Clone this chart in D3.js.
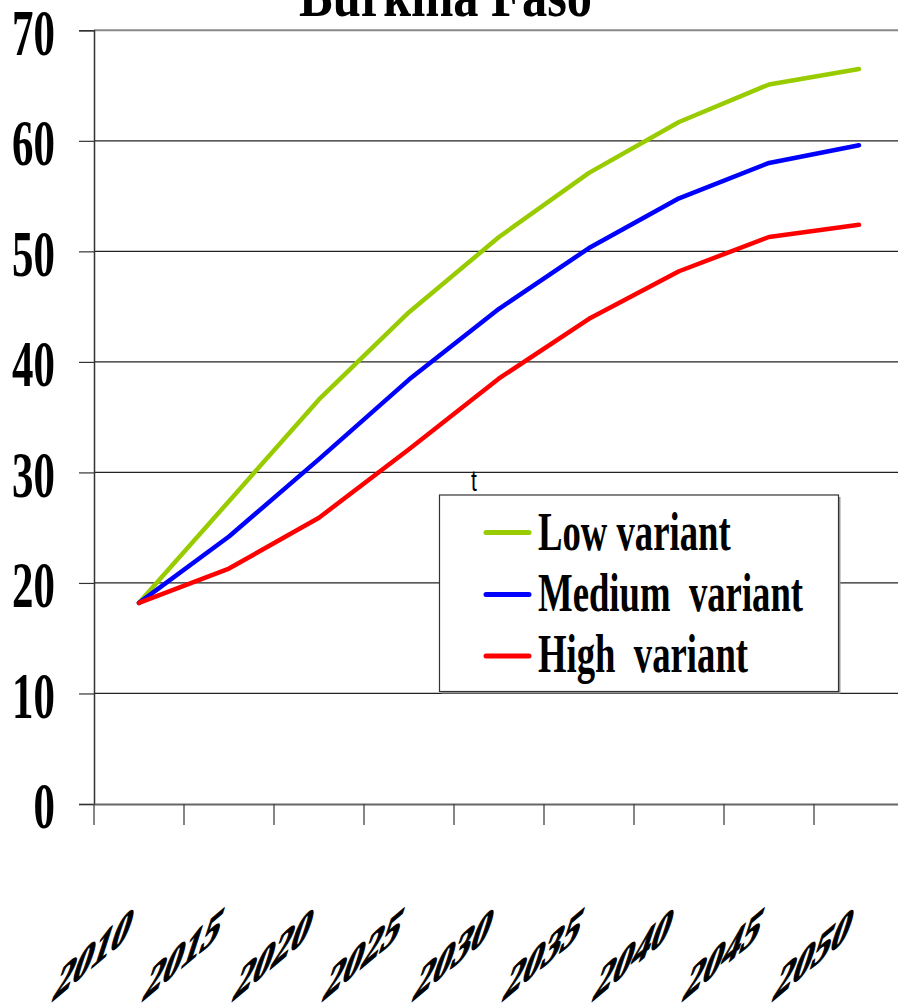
<!DOCTYPE html>
<html>
<head>
<meta charset="utf-8">
<script src="https://cdn.jsdelivr.net/npm/d3@7"></script>
<style>
  html, body { margin: 0; padding: 0; background: #fff; }
  svg { display: block; }
  text { font-family: "Liberation Serif", "Times New Roman", serif; font-weight: bold; fill: #000; }
</style>
</head>
<body>
<svg id="chart" width="898" height="1003"></svg>
<script>
// Burkina Faso projections by variant, 2010-2050
const years = ["2010", "2015", "2020", "2025", "2030", "2035", "2040", "2045", "2050"];
const lowVariant    = [18.2, 27.4, 36.6, 44.5, 51.3, 57.1, 61.7, 65.1, 66.5];
const mediumVariant = [18.2, 24.2, 31.2, 38.4, 44.8, 50.3, 54.8, 58.0, 59.6];
const highVariant   = [18.2, 21.3, 25.9, 32.1, 38.5, 43.9, 48.2, 51.3, 52.4];
const seriesNames = ["Low variant", "Medium\u00A0 variant", "High\u00A0 variant"];
const yTicks = [0, 10, 20, 30, 40, 50, 60, 70];

const series = [
  { name: seriesNames[0], values: lowVariant,    color: "#99cc00" },
  { name: seriesNames[1], values: mediumVariant, color: "#0000ff" },
  { name: seriesNames[2], values: highVariant,   color: "#ff0000" }
];

const svg = d3.select("#chart");
const plot = { left: 94, right: 904, top: 30.3, bottom: 804 };
const squeeze = 0.66; // narrow glyph width used for chart text

const x = d3.scaleBand().domain(years).range([plot.left, plot.right]).padding(0);
const y = d3.scaleLinear().domain([0, 70]).range([plot.bottom, plot.top]);
const cx = d => x(d) + x.bandwidth() / 2;

// Title (partly above the frame)
svg.append("text")
  .attr("x", 299).attr("y", 16)
  .attr("font-size", 62)
  .attr("textLength", 293)
  .attr("lengthAdjust", "spacingAndGlyphs")
  .text("Burkina Faso");

// Horizontal gridlines
svg.append("g")
  .selectAll("line")
  .data(yTicks.filter(t => t > 0 && t < 70))
  .join("line")
  .attr("x1", plot.left).attr("x2", 898)
  .attr("y1", d => y(d)).attr("y2", d => y(d))
  .attr("stroke", "#222").attr("stroke-width", 1.2);

// Top frame line
svg.append("line")
  .attr("x1", plot.left).attr("x2", 898)
  .attr("y1", y(70)).attr("y2", y(70))
  .attr("stroke", "#888").attr("stroke-width", 2);

// Y axis
const yAxis = svg.append("g")
  .attr("transform", `translate(${plot.left},0)`)
  .call(d3.axisLeft(y).tickValues(yTicks).tickSize(15).tickFormat(d3.format("d")));
yAxis.select(".domain").attr("stroke", "#333").attr("stroke-width", 1.5);
yAxis.selectAll(".tick line").attr("stroke", "#333").attr("stroke-width", 1.2);
yAxis.selectAll(".tick text")
  .style("font-family", "'Liberation Serif', 'Times New Roman', serif")
  .style("font-weight", "bold")
  .attr("font-size", 65)
  .attr("fill", "#000")
  .attr("x", null)
  .attr("dy", null)
  .attr("dominant-baseline", "central")
  .attr("text-anchor", "end")
  .attr("transform", `translate(-39,2) scale(${squeeze},1)`);

// X axis: baseline, tick marks at category boundaries
const xAxis = svg.append("g")
  .attr("transform", `translate(0,${plot.bottom})`)
  .call(d3.axisBottom(x).tickSize(0).tickFormat(""));
xAxis.select(".domain").attr("stroke", "#666").attr("stroke-width", 2);

svg.append("g")
  .selectAll("line")
  .data(years)
  .join("line")
  .attr("x1", d => x(d)).attr("x2", d => x(d))
  .attr("y1", plot.bottom).attr("y2", plot.bottom + 21)
  .attr("stroke", "#444").attr("stroke-width", 1.3);

// Slanted year labels (diagonal baseline, glyphs leaning right)
svg.append("g")
  .selectAll("text")
  .data(years)
  .join("text")
  .attr("font-size", 62)
  .attr("text-anchor", "end")
  .attr("stroke", "#000")
  .attr("stroke-width", 2)
  .attr("stroke-linejoin", "round")
  .attr("transform", d => `translate(${cx(d) - 12.6},${plot.bottom + 135}) matrix(0.613,-0.514,-0.272,0.837,0,0)`)
  .text(d => d);

// Series lines
const line = d3.line()
  .x((v, i) => cx(years[i]))
  .y(v => y(v));

svg.append("g")
  .selectAll("path")
  .data(series)
  .join("path")
  .attr("d", s => line(s.values))
  .attr("fill", "none")
  .attr("stroke", s => s.color)
  .attr("stroke-width", 4.5)
  .attr("stroke-linejoin", "round")
  .attr("stroke-linecap", "round");

// Stray label above legend
svg.append("text")
  .style("font-family", "'Liberation Sans', Arial, sans-serif")
  .style("font-weight", "normal")
  .attr("font-size", 30)
  .attr("transform", `translate(471,491) scale(0.7,1)`)
  .text("t");

// Legend
const legend = { x: 439.5, y: 495, w: 399, h: 196.5 };
svg.append("rect")
  .attr("x", legend.x + 2).attr("y", legend.y + 2)
  .attr("width", legend.w).attr("height", legend.h)
  .attr("fill", "#999");
svg.append("rect")
  .attr("x", legend.x).attr("y", legend.y)
  .attr("width", legend.w).attr("height", legend.h)
  .attr("fill", "#fff").attr("stroke", "#333").attr("stroke-width", 1.2);

const rowY = [532.5, 594.5, 656];
const baseY = [550, 611, 672];
const items = svg.append("g").selectAll("g").data(series).join("g");
items.append("line")
  .attr("x1", 486).attr("x2", 529)
  .attr("y1", (d, i) => rowY[i]).attr("y2", (d, i) => rowY[i])
  .attr("stroke", d => d.color)
  .attr("stroke-width", 5)
  .attr("stroke-linecap", "round");
items.append("text")
  .attr("font-size", 54)
  .style("white-space", "pre")
  .attr("transform", (d, i) => `translate(538,${baseY[i]}) scale(0.68,1)`)
  .text(d => d.name);
</script>
</body>
</html>
